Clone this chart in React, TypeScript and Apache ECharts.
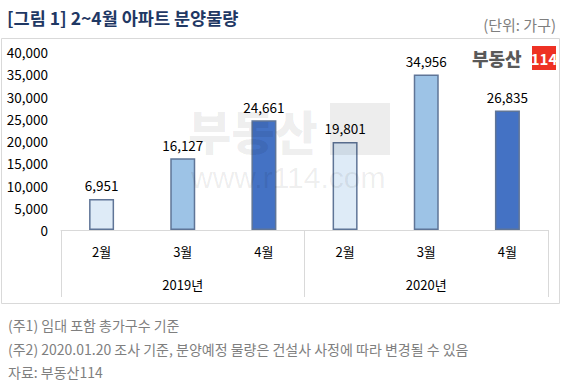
import React, { useEffect, useRef } from "react";
import * as echarts from "echarts";

const months = ["2월", "3월", "4월", "2월", "3월", "4월"];
const years = ["2019년", "2020년"];
const values = [6951, 16127, 24661, 19801, 34956, 26835];
const barColors = ["#DEEBF7", "#9DC3E6", "#4472C4", "#DEEBF7", "#9DC3E6", "#4472C4"];
const yTicks = { min: 0, max: 40000, interval: 5000 };
const title = "[그림 1] 2~4월 아파트 분양물량";
const unit = "(단위: 가구)";
const notes = [
  "(주1) 임대 포함 총가구수 기준",
  "(주2) 2020.01.20 조사 기준, 분양예정 물량은 건설사 사정에 따라 변경될 수 있음",
  "자료: 부동산114",
];

const FONT = "'Noto Sans CJK KR', 'Noto Sans', sans-serif";

export default function App() {
  const ref = useRef<HTMLDivElement>(null);
  useEffect(() => {
    if (!ref.current) return;
    const chart = echarts.init(ref.current, null, { renderer: "svg" });
    const option: any = {
      animation: false,
      backgroundColor: "#ffffff",
      textStyle: { fontFamily: FONT },
      grid: { left: 61, right: 16, top: 52, bottom: 155, containLabel: false },
      xAxis: [
        {
          type: "category",
          data: months,
          position: "bottom",
          axisLine: { show: true, lineStyle: { color: "#D9D9D9", width: 1 } },
          axisTick: { show: false },
          axisLabel: { margin: 15, fontSize: 13, color: "#000", fontFamily: FONT },
        },
        {
          type: "category",
          data: years,
          position: "bottom",
          axisLine: { show: false },
          axisTick: { show: true, length: 67, lineStyle: { color: "#D9D9D9", width: 1 } },
          axisLabel: { margin: 48, fontSize: 13, color: "#000", fontFamily: FONT },
        },
      ],
      yAxis: {
        type: "value",
        min: yTicks.min,
        max: yTicks.max,
        interval: yTicks.interval,
        axisLine: { show: false },
        axisTick: { show: false },
        splitLine: { show: false },
        axisLabel: {
          margin: 13,
          fontSize: 13.5,
          color: "#000",
          fontFamily: FONT,
          formatter: (v: number) => v.toLocaleString("en-US"),
        },
      },
      series: [
        {
          type: "bar",
          xAxisIndex: 0,
          barWidth: 25,
          z: 2,
          data: values.map((v, i) => ({
            value: v,
            itemStyle: { color: barColors[i], borderColor: "#5F7597", borderWidth: 1.5 },
          })),
          label: {
            show: true,
            position: "top",
            distance: 7,
            fontSize: 13.5,
            color: "#000",
            fontFamily: FONT,
            formatter: (p: any) => Number(p.value).toLocaleString("en-US"),
          },
        },
      ],
      graphic: [
        {
          type: "rect",
          shape: { x: 1.5, y: 38.5, width: 558, height: 265 },
          style: { fill: "none", stroke: "#D9D9D9", lineWidth: 1 },
          z: 0,
        },
        {
          type: "text",
          x: 7,
          y: 17,
          style: {
            text: title,
            fontSize: 17.5,
            fontWeight: "bold",
            fill: "#1F3864",
            fontFamily: FONT,
            verticalAlign: "middle",
          },
        },
        {
          type: "text",
          x: 556,
          y: 24,
          style: {
            text: unit,
            fontSize: 15,
            fill: "#7F7F7F",
            fontFamily: FONT,
            align: "right",
            verticalAlign: "middle",
          },
        },
        // logo
        {
          type: "text",
          x: 472,
          y: 58,
          style: {
            text: "부동산",
            fontSize: 18,
            fontWeight: 900,
            fill: "#595959",
            fontFamily: FONT,
            verticalAlign: "middle",
          },
        },
        {
          type: "rect",
          shape: { x: 532, y: 46, width: 24, height: 24 },
          style: { fill: "#EE3124" },
        },
        {
          type: "text",
          x: 544,
          y: 58,
          style: {
            text: "114",
            fontSize: 15,
            fontWeight: "bold",
            fill: "#ffffff",
            fontFamily: FONT,
            align: "center",
            verticalAlign: "middle",
          },
        },
        // watermark
        {
          type: "text",
          x: 188,
          y: 129,
          z: 10,
          silent: true,
          style: {
            text: "부동산",
            fontSize: 47,
            fontWeight: 900,
            fill: "rgba(0,0,0,0.07)",
            fontFamily: FONT,
            verticalAlign: "middle",
          },
        },
        {
          type: "rect",
          z: 10,
          silent: true,
          shape: { x: 330, y: 103, width: 60, height: 52 },
          style: { fill: "rgba(0,0,0,0.07)" },
        },
        {
          type: "text",
          x: 191,
          y: 177,
          z: 10,
          silent: true,
          style: {
            text: "www.r114.com",
            fontSize: 30,
            fill: "rgba(0,0,0,0.07)",
            fontFamily: "'Liberation Sans', Arial, sans-serif",
            verticalAlign: "middle",
          },
        },
        ...notes.map((t, i) => ({
          type: "text",
          x: 8,
          y: 325 + i * 23.5,
          style: {
            text: t,
            fontSize: 14,
            fill: "#7F7F7F",
            fontFamily: FONT,
            verticalAlign: "middle",
          },
        })),
      ],
    };
    chart.setOption(option);
    return () => chart.dispose();
  }, []);
  return (
    <div
      ref={ref}
      style={{ position: "fixed", left: 0, top: 0, width: 564, height: 385 }}
    />
  );
}
